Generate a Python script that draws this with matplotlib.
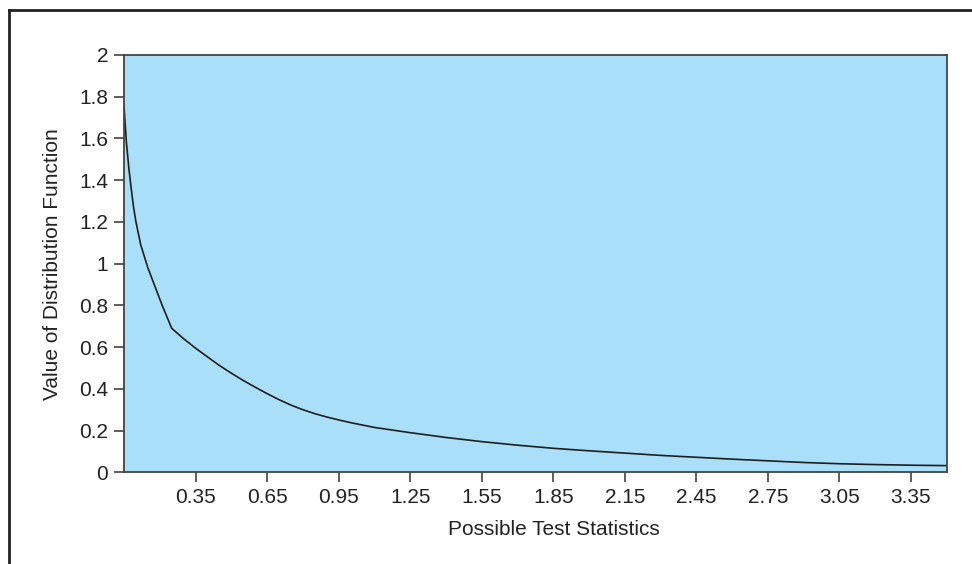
import matplotlib
matplotlib.use("Agg")
import matplotlib.pyplot as plt
from matplotlib.lines import Line2D

# Values
test_stat = [0.05, 0.06, 0.07, 0.08, 0.09, 0.10, 0.12, 0.15, 0.18, 0.21,
             0.25, 0.30, 0.35, 0.40, 0.45, 0.50, 0.55, 0.60, 0.65, 0.70,
             0.75, 0.80, 0.85, 0.90, 0.95, 1.00, 1.10, 1.25, 1.40, 1.55,
             1.70, 1.85, 2.00, 2.15, 2.30, 2.45, 2.60, 2.75, 2.90, 3.05,
             3.20, 3.35, 3.50]
dist_value = [1.75, 1.58, 1.46, 1.36, 1.27, 1.20, 1.09, 0.98, 0.89, 0.80,
              0.69, 0.64, 0.595, 0.553, 0.512, 0.475, 0.44, 0.408, 0.377, 0.348,
              0.322, 0.300, 0.281, 0.265, 0.251, 0.238, 0.215, 0.19, 0.167, 0.147,
              0.13, 0.115, 0.103, 0.092, 0.081, 0.072, 0.063, 0.055, 0.047, 0.041,
              0.037, 0.034, 0.032]
x_ticks = [0.35, 0.65, 0.95, 1.25, 1.55, 1.85, 2.15, 2.45, 2.75, 3.05, 3.35]
y_ticks = [0, 0.2, 0.4, 0.6, 0.8, 1, 1.2, 1.4, 1.6, 1.8, 2]

plt.rcParams["font.family"] = ["Liberation Sans", "DejaVu Sans"]

fig = plt.figure(figsize=(9.72, 5.64), dpi=100)
ax = fig.add_axes([0.1276, 0.1626, 0.8464, 0.7399])
ax.set_facecolor("#aadff9")

ax.plot(test_stat, dist_value, color="#1e1e1e", linewidth=1.2)

ax.set_xlim(0.05, 3.5)
ax.set_ylim(0, 2)
ax.set_xticks(x_ticks)
ax.set_xticklabels([f"{t:.2f}" for t in x_ticks])
ax.set_yticks(y_ticks)
ax.set_yticklabels([f"{t:g}" for t in y_ticks])
ax.tick_params(length=7, width=1.1, color="#333333", labelsize=15,
               labelcolor="#222222", pad=4.5)

for s in ax.spines.values():
    s.set_color("#444444")
    s.set_linewidth(1.3)

ax.set_xlabel("Possible Test Statistics", fontsize=15, color="#222222")
ax.set_ylabel("Value of Distribution Function", fontsize=15, color="#222222")
ax.xaxis.set_label_coords(0.523, -0.114)
ax.yaxis.set_label_coords(-0.0754, 0.5)

# outer frame (top and left edges only are visible)
fig.add_artist(Line2D([8.5 / 972, 1.0], [1 - 9.5 / 564, 1 - 9.5 / 564],
                      transform=fig.transFigure, color="#222222", linewidth=2))
fig.add_artist(Line2D([8.5 / 972, 8.5 / 972], [0.0, 1 - 9.5 / 564],
                      transform=fig.transFigure, color="#222222", linewidth=2))

fig.savefig("out.png", dpi=100)
plt.close(fig)
